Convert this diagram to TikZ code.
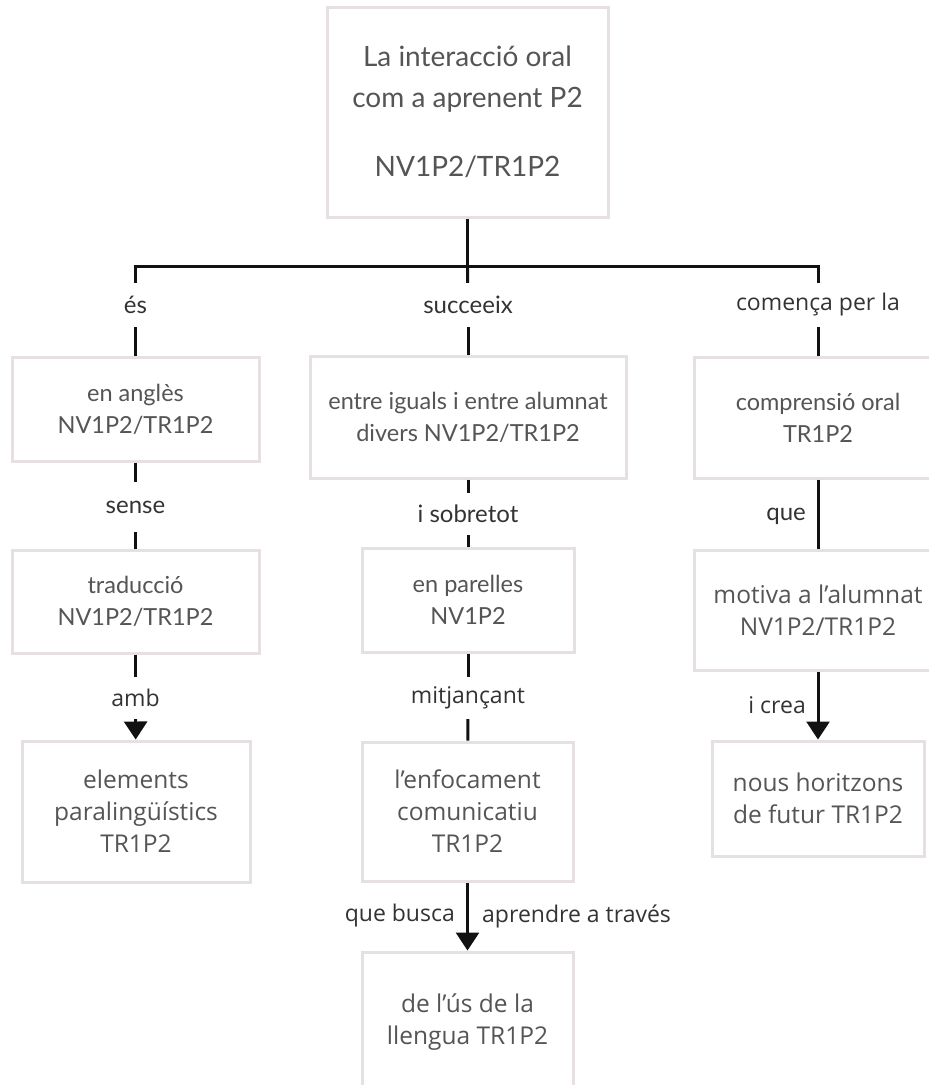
\documentclass[tikz,border=0pt]{standalone}
\usepackage{fontspec}
\setmainfont{Lato}
\newfontfamily\osans{Open Sans}
\usetikzlibrary{arrows.meta}
\definecolor{boxline}{HTML}{E6DFE3}
\definecolor{boxtext}{HTML}{555555}
\definecolor{labeltext}{HTML}{333333}
\definecolor{linkc}{HTML}{111111}
\tikzset{
  x=1pt, y=-1pt,
  box/.style={draw=boxline, line width=3pt, fill=white, text=boxtext,
    align=center, inner sep=0pt, font=\fontsize{23.5}{32}\selectfont},
  osbox/.style={box, font=\osans\fontsize{24.5}{32}\selectfont},
  lbl/.style={text=labeltext, inner sep=0pt, minimum height=44pt,
    font=\fontsize{24}{28}\selectfont},
  oslbl/.style={lbl, font=\osans\fontsize{23}{28}\selectfont},
  side/.style={text=labeltext, inner sep=0pt, font=\osans\fontsize{23}{28}\selectfont},
  link/.style={draw=linkc, line width=3pt},
  arr/.style={link, -{Triangle[width=23pt,length=18pt]}},
}
\begin{document}
\begin{tikzpicture}
\useasboundingbox (0,0) rectangle (929,1085);
\clip (0,0) rectangle (929,1085);

% boxes
\node[box, minimum width=281pt, minimum height=210pt, font=\fontsize{28}{41}\selectfont] (top) at (467.5,112)
  {La interacció oral\\com a aprenent P2\\[28pt]NV1P2/TR1P2};
\node[box, minimum width=247pt, minimum height=104pt] (angles) at (135.5,409) {en anglès\\NV1P2/TR1P2};
\node[box, minimum width=247pt, minimum height=103pt] (traduccio) at (135.5,601.5) {traducció\\NV1P2/TR1P2};
\node[osbox, minimum width=228pt, minimum height=141pt] (elements) at (136,811.5) {elements\\paralingüístics\\TR1P2};
\node[box, minimum width=316pt, minimum height=122pt] (iguals) at (468,417) {entre iguals i entre alumnat\\divers NV1P2/TR1P2};
\node[box, minimum width=212pt, minimum height=104pt] (parelles) at (468,600) {en parelles\\NV1P2};
\node[osbox, minimum width=211pt, minimum height=139pt] (enfocament) at (467.5,811.5) {l’enfocament\\comunicatiu\\TR1P2};
\node[osbox, minimum width=211pt, minimum height=140pt] (us) at (467.5,1022) {de l’ús de la\\llengua TR1P2};
\node[box, minimum width=248pt, minimum height=121pt] (comprensio) at (818,417.5) {comprensió oral\\TR1P2};
\node[osbox, minimum width=248pt, minimum height=120pt] (motiva) at (818,610) {motiva a l’alumnat\\NV1P2/TR1P2};
\node[osbox, minimum width=212pt, minimum height=115pt] (horitzons) at (818,798.5) {nous horitzons\\de futur TR1P2};

% junction points of the top branching
\coordinate (hub) at (467.5,266);
\coordinate (bl) at (135.5,266);
\coordinate (br) at (818,266);

% connector labels
\node[lbl] (es) at (135.5,305) {és};
\node[lbl] (succeeix) at (468,305) {succeeix};
\node[oslbl] (comenca) at (818,305) {comença per la};
\node[lbl, minimum height=50pt] (sense) at (135.5,507) {sense};
\node[oslbl, minimum height=42pt] (amb) at (135.5,698) {amb};
\node[lbl, minimum height=42pt] (sobretot) at (468,514) {i sobretot};
\node[oslbl, minimum height=42pt] (mitjancant) at (468,698) {mitjançant};
\node[lbl, anchor=east] (que) at (806,516) {que};
\node[side, anchor=east] (crea) at (806,705) {i crea};
\node[side, anchor=east] (busca) at (455,916) {que busca};
\node[side, anchor=west] (traves) at (482,916) {aprendre a través};

% connectors
\draw[link] (top.south) -- (hub);
\draw[link, line join=miter] (es) -- (bl) -- (br) -- (comenca);
\draw[link] (succeeix) -- (hub);
\draw[link] (es) -- (angles);
\draw[link] (succeeix) -- (iguals);
\draw[link] (comenca) -- (comprensio);
\draw[link] (angles) -- (sense);
\draw[link] (sense) -- (traduccio);
\draw[link] (traduccio) -- (amb);
\draw[arr] (amb) -- (elements);
\draw[link] (iguals) -- (sobretot);
\draw[link] (sobretot) -- (parelles);
\draw[link] (parelles) -- (mitjancant);
\draw[link] (mitjancant) -- (enfocament);
\draw[arr] (enfocament) -- (us);
\draw[link] (comprensio) -- (motiva);
\draw[arr] (motiva) -- (horitzons);
\end{tikzpicture}
\end{document}
